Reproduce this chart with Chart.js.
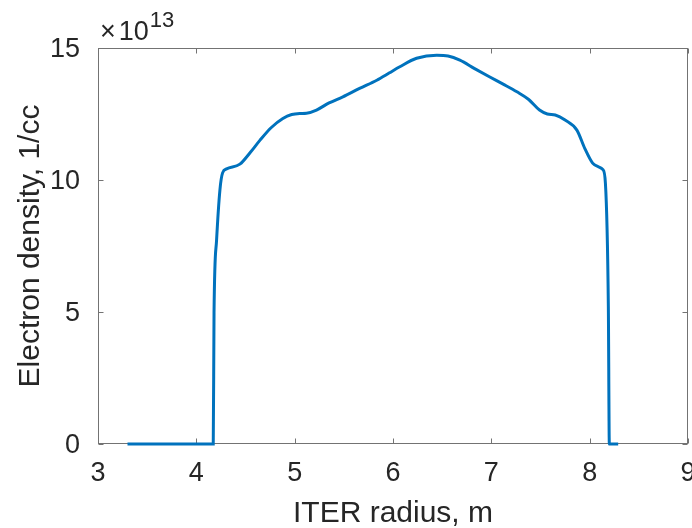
<!DOCTYPE html>
<html>
<head>
<meta charset="utf-8">
<script src="https://cdn.jsdelivr.net/npm/chart.js@4.4.1/dist/chart.umd.min.js"></script>
<style>
  html, body { margin: 0; padding: 0; background: #fff; }
</style>
</head>
<body>
<canvas id="density-chart" width="692" height="528"></canvas>
<script>
  // major radius, m
  const radius = [
    3.30, 4.172, 4.18, 4.206, 4.24, 4.267, 4.308, 4.443, 4.55, 4.646,
    4.76, 4.88, 4.97, 5.053, 5.12, 5.222, 5.35, 5.49, 5.66, 5.835,
    5.96, 6.069, 6.24, 6.445, 6.56, 6.68, 6.83, 6.98, 7.12, 7.26,
    7.38, 7.49, 7.57, 7.65, 7.75, 7.87, 7.95, 8.03, 8.09, 8.135,
    8.16, 8.19, 8.2, 8.29
  ];
  // electron density in units of 1e13 per cc
  const density = [
    0, 0, 4.97, 7.73, 9.63, 10.27, 10.42, 10.6, 11.05, 11.5,
    11.98, 12.33, 12.48, 12.52, 12.53, 12.65, 12.92, 13.15, 13.47, 13.78,
    14.05, 14.29, 14.61, 14.73, 14.7, 14.54, 14.22, 13.91, 13.63, 13.34,
    13.05, 12.65, 12.5, 12.46, 12.27, 11.89, 11.2, 10.64, 10.5, 10.39,
    9.88, 5.2, 0, 0
  ];
  const xTicks = [3, 4, 5, 6, 7, 8, 9];
  const yTicks = [0, 5, 10, 15];
  const exponent = '13';

  const textColor = '#262626';
  const axisColor = '#737373';

  // box around the plot with inward tick marks, plus the x10^n multiplier
  const axesBox = {
    id: 'axesBox',
    beforeDatasetsDraw(chart) {
      const { ctx, chartArea: a, scales: { x, y } } = chart;
      const L = Math.round(a.left) + 0.5;
      const R = Math.round(a.right) - 0.5;
      const T = Math.round(a.top) + 0.5;
      const B = Math.round(a.bottom) - 0.5;
      const len = 5;

      ctx.save();
      ctx.strokeStyle = axisColor;
      ctx.lineWidth = 1;
      ctx.strokeRect(L, T, R - L, B - T);
      ctx.beginPath();
      x.ticks.forEach(t => {
        const px = Math.round(x.getPixelForValue(t.value)) + 0.5;
        ctx.moveTo(px, B); ctx.lineTo(px, B - len);
        ctx.moveTo(px, T); ctx.lineTo(px, T + len);
      });
      y.ticks.forEach(t => {
        const py = Math.round(y.getPixelForValue(t.value)) + 0.5;
        ctx.moveTo(L, py); ctx.lineTo(L + len, py);
        ctx.moveTo(R, py); ctx.lineTo(R - len, py);
      });
      ctx.stroke();

      // exponent label above the y axis
      ctx.fillStyle = textColor;
      ctx.textBaseline = 'alphabetic';
      ctx.textAlign = 'left';
      let cx = a.left + 2;
      const base = a.top - 8;
      ctx.font = '27px Arial';
      ctx.fillText('\u00d7', cx, base);
      cx += ctx.measureText('\u00d7').width + 3;
      ctx.fillText('10', cx, base);
      cx += ctx.measureText('10').width + 1;
      ctx.font = '22px Arial';
      ctx.fillText(exponent, cx, base - 13.5);
      ctx.restore();
    }
  };

  const ctx = document.getElementById('density-chart').getContext('2d');
  new Chart(ctx, {
    type: 'line',
    data: {
      datasets: [{
        data: radius.map((r, i) => ({ x: r, y: density[i] })),
        borderColor: '#0072BD',
        borderWidth: 3,
        pointRadius: 0,
        fill: false,
        clip: false,
        cubicInterpolationMode: 'monotone'
      }]
    },
    options: {
      responsive: false,
      animation: false,
      devicePixelRatio: 1,
      layout: { padding: { top: 48, right: 4, left: 0, bottom: 0 } },
      plugins: {
        legend: { display: false },
        tooltip: { enabled: false }
      },
      scales: {
        x: {
          type: 'linear',
          min: 3,
          max: 9,
          afterBuildTicks: s => { s.ticks = xTicks.map(v => ({ value: v })); },
          afterFit: s => { s.height = 84; s.paddingLeft = 0; s.paddingRight = 0; },
          grid: { display: false },
          border: { display: false },
          ticks: {
            font: { family: 'Arial', size: 27 },
            color: textColor,
            padding: 5,
            maxRotation: 0,
            autoSkip: false
          },
          title: {
            display: true,
            text: 'ITER radius, m',
            font: { family: 'Arial', size: 30, lineHeight: 1 },
            color: textColor,
            padding: { top: 0, bottom: -1 }
          }
        },
        y: {
          min: 0,
          max: 15,
          afterBuildTicks: s => { s.ticks = yTicks.map(v => ({ value: v })); },
          afterFit: s => { s.width = 98; s.paddingTop = 0; s.paddingBottom = 0; },
          grid: { display: false },
          border: { display: false },
          ticks: {
            font: { family: 'Arial', size: 27 },
            color: textColor,
            padding: 10,
            labelOffset: 2,
            autoSkip: false
          },
          title: {
            display: true,
            text: 'Electron density, 1/cc',
            font: { family: 'Arial', size: 30, lineHeight: 1 },
            color: textColor,
            padding: { top: 16, bottom: 0 }
          }
        }
      }
    },
    plugins: [axesBox]
  });
</script>
</body>
</html>
